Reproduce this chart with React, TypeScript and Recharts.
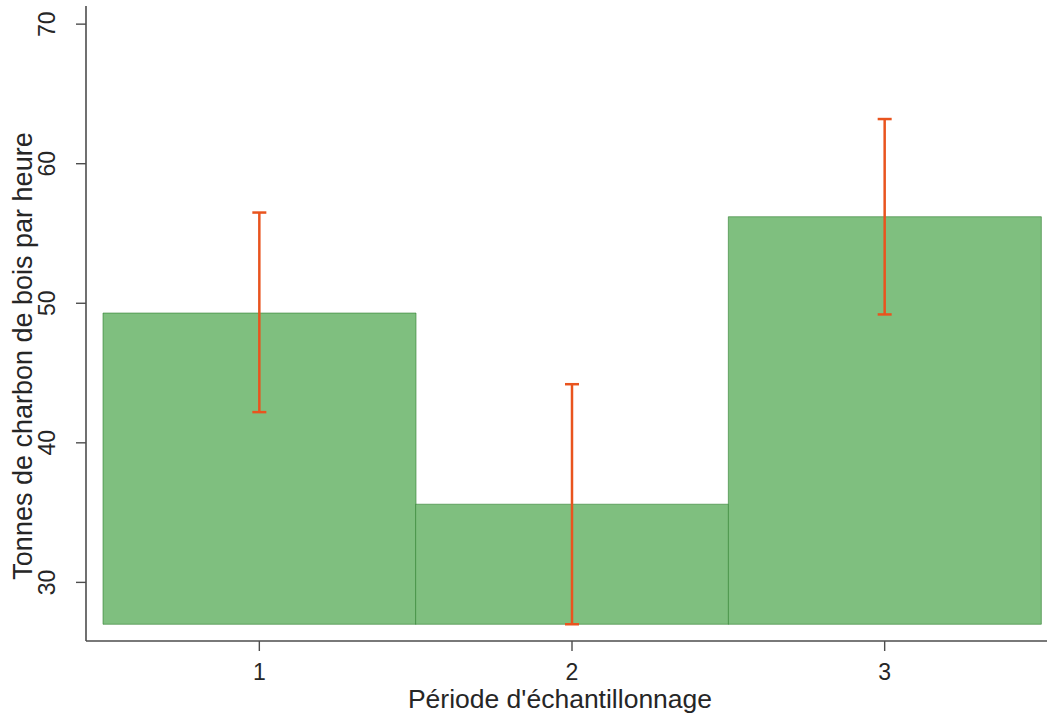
import React from "react";
import {
  ComposedChart,
  Bar,
  Line,
  ErrorBar,
  XAxis,
  YAxis,
} from "recharts";

const periods = ["1", "2", "3"];
const means = [49.3, 35.6, 56.2];
const lowerBounds = [42.2, 27.0, 49.2];
const upperBounds = [56.5, 44.2, 63.2];
const BAR_BASE = 27;
const yTicks = [30, 40, 50, 60, 70];

const data = periods.map((p, i) => ({
  period: p,
  range: [BAR_BASE, means[i]],
  mean: means[i],
  err: [means[i] - lowerBounds[i], upperBounds[i] - means[i]],
}));

const FONT = "'Liberation Sans', Arial, Helvetica, sans-serif";
const AXIS = "#4d4d4d";
const TEXT = "#262626";

const YTick = (props: any) => {
  const { y, payload } = props;
  return (
    <text
      transform={`translate(55, ${y}) rotate(-90)`}
      textAnchor="middle"
      fontSize={23}
      fill={TEXT}
      fontFamily={FONT}
    >
      {payload.value}
    </text>
  );
};

const XTick = (props: any) => {
  const { x, payload } = props;
  return (
    <text x={x} y={680} textAnchor="middle" fontSize={23} fill={TEXT} fontFamily={FONT}>
      {payload.value}
    </text>
  );
};

export default function App() {
  return (
    <div
      style={{
        position: "fixed",
        left: 0,
        top: 0,
        width: 1047,
        height: 719,
        overflow: "hidden",
        background: "#fff",
      }}
    >
      <ComposedChart
        width={1100}
        height={719}
        data={data}
        margin={{ top: 6, right: 42, left: 0, bottom: 0 }}
        barCategoryGap={0}
        barGap={0}
      >
        <XAxis
          dataKey="period"
          type="category"
          padding={{ left: 17, right: 17 }}
          height={78}
          axisLine={{ stroke: AXIS, strokeWidth: 1.6 }}
          tickLine={{ stroke: AXIS, strokeWidth: 1.4 }}
          tickSize={10}
          tick={<XTick />}
          label={{
            content: () => (
              <text x={560} y={708} textAnchor="middle" fontSize={26.5} fill={TEXT} fontFamily={FONT}>
                Période d'échantillonnage
              </text>
            ),
          }}
        />
        <XAxis
          xAxisId="top"
          dataKey="period"
          orientation="top"
          height={0}
          tick={false}
          tickLine={false}
          axisLine={{ stroke: AXIS, strokeWidth: 1.6 }}
        />
        <YAxis
          type="number"
          domain={[25.8, 71.3]}
          ticks={yTicks}
          allowDataOverflow
          width={86}
          axisLine={{ stroke: AXIS, strokeWidth: 1.6 }}
          tickLine={{ stroke: AXIS, strokeWidth: 1.4 }}
          tickSize={10}
          tick={<YTick />}
          label={{
            content: () => (
              <text
                transform="translate(32, 356) rotate(-90)"
                textAnchor="middle"
                fontSize={27}
                fill={TEXT}
                fontFamily={FONT}
              >
                Tonnes de charbon de bois par heure
              </text>
            ),
          }}
        />
        <Bar
          dataKey="range"
          fill="#7fbf7f"
          stroke="#2f7f2f"
          strokeOpacity={0.6}
          strokeWidth={1}
          isAnimationActive={false}
        />
        <Line
          dataKey="mean"
          stroke="none"
          dot={false}
          activeDot={false}
          isAnimationActive={false}
        >
          <ErrorBar dataKey="err" stroke="#e9541e" strokeWidth={2.5} width={7} />
        </Line>
      </ComposedChart>
    </div>
  );
}
